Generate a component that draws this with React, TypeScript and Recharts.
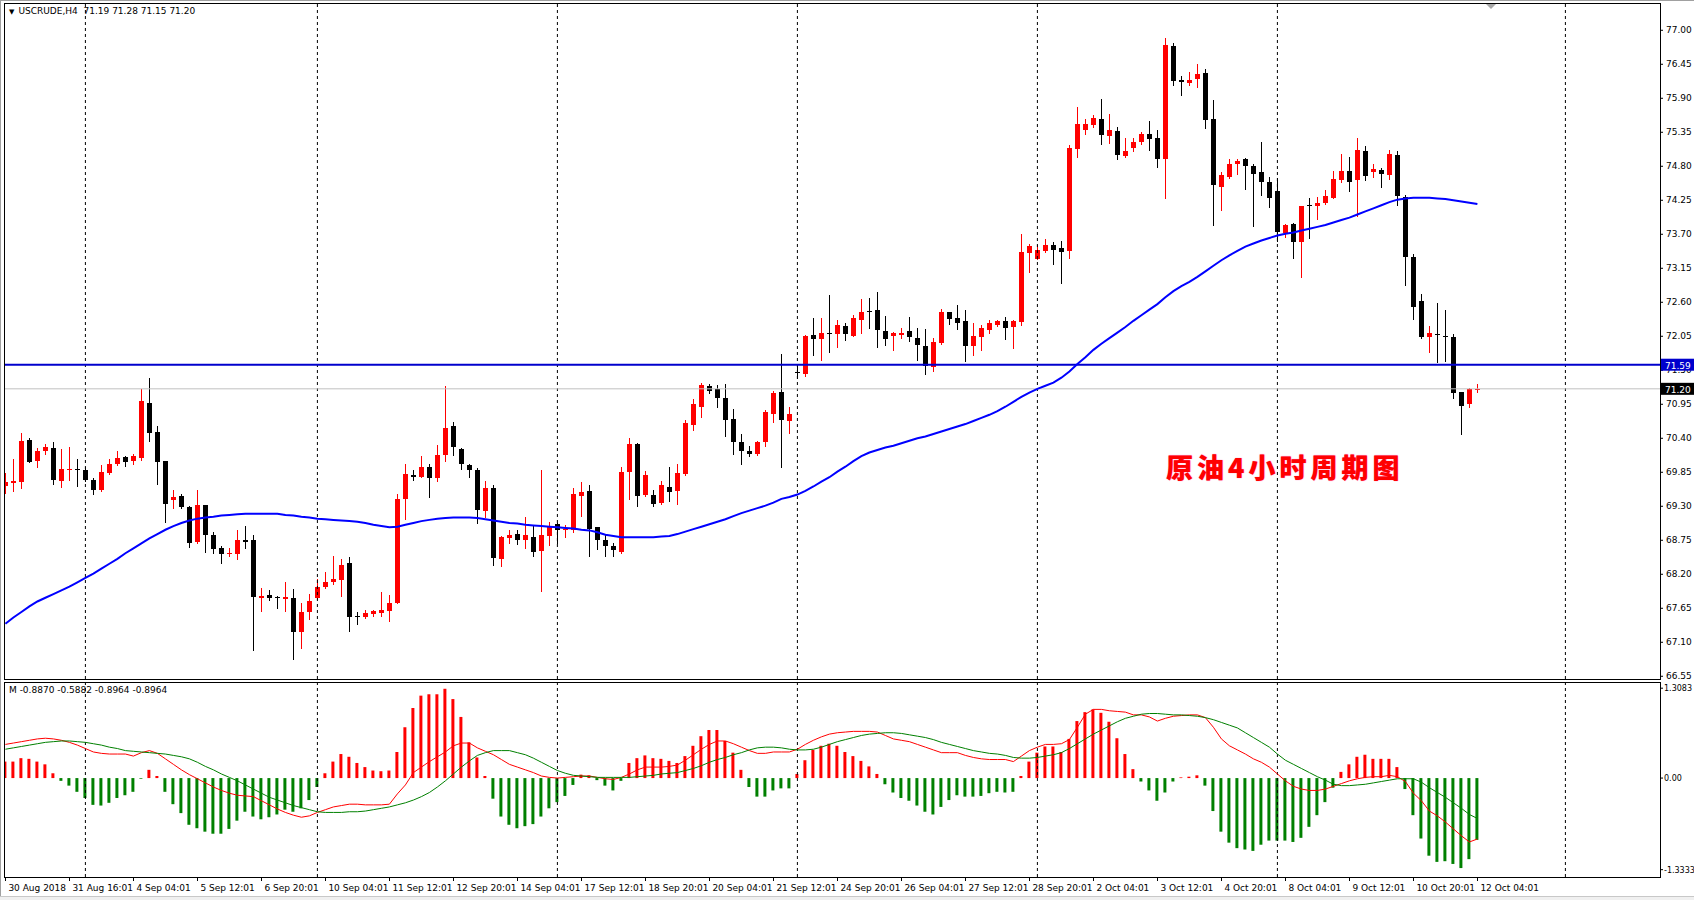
import React from 'react';
import { ComposedChart, Bar, Line, XAxis, YAxis, ReferenceLine, Cell } from 'recharts';

// USCRUDE H4 candles, 30 Aug 2018 .. 12 Oct 2018 04:01
const opens = [
  69.63, 69.68, 69.70, 70.38, 70.03, 70.20, 70.24, 69.71, 69.89, 69.90,
  69.88, 69.72, 69.57, 69.84, 69.98, 70.09, 70.03, 70.08, 70.97, 70.50,
  70.03, 69.40, 69.46, 69.29, 68.72, 69.32, 68.84, 68.63, 68.53, 68.53,
  68.76, 68.75, 67.81, 67.86, 67.84, 67.80, 67.82, 67.27, 67.59, 67.81,
  68.00, 68.07, 68.10, 68.38, 67.53, 67.51, 67.55, 67.58, 67.60, 67.73,
  69.42, 69.81, 69.78, 69.93, 69.76, 70.13, 70.60, 70.22, 69.96, 69.88,
  69.23, 69.59, 68.45, 68.78, 68.85, 68.75, 68.80, 68.57, 68.82, 69.02,
  68.91, 68.91, 69.46, 69.54, 68.96, 68.76, 68.66, 68.56, 69.85, 70.31,
  69.48, 69.49, 69.35, 69.61, 69.54, 69.82, 70.61, 70.90, 71.24, 71.19,
  71.05, 70.71, 70.34, 70.20, 70.15, 70.34, 70.79, 71.15, 70.68, 71.47,
  71.44, 72.07, 72.01, 72.10, 72.08, 72.21, 72.06, 72.32, 72.46, 72.47,
  72.14, 72.06, 72.07, 72.13, 72.03, 71.90, 71.56, 71.94, 72.44, 72.34,
  72.29, 71.89, 72.04, 72.15, 72.24, 72.29, 72.20, 72.28, 73.40, 73.30,
  73.43, 73.52, 73.47, 73.43, 75.08, 75.38, 75.47, 75.57, 75.29, 75.37,
  74.96, 75.09, 75.20, 75.33, 75.26, 74.91, 76.75, 76.19, 76.14, 76.21,
  76.31, 75.57, 74.47, 74.63, 74.84, 74.91, 74.81, 74.70, 74.54, 74.40,
  73.72, 73.86, 73.57, 74.18, 74.15, 74.21, 74.28, 74.57, 74.73, 74.57,
  75.05, 74.70, 74.74, 74.66, 74.98, 74.31, 73.33, 72.62, 72.04, 72.09,
  72.06, 72.04, 71.15, 70.96, 71.19,
];

const highs = [
  69.84, 70.06, 70.49, 70.40, 70.24, 70.31, 70.34, 70.22, 70.26, 70.06,
  69.93, 69.75, 69.96, 70.06, 70.19, 70.12, 70.15, 71.19, 71.37, 70.60,
  70.03, 69.56, 69.50, 69.31, 69.56, 69.32, 68.89, 68.66, 68.63, 68.92,
  68.98, 68.84, 67.97, 67.94, 67.85, 68.07, 67.96, 67.73, 67.88, 68.13,
  68.24, 68.49, 68.45, 68.48, 67.59, 67.63, 67.62, 67.91, 67.86, 69.50,
  69.98, 69.89, 70.12, 69.98, 70.29, 71.24, 70.67, 70.24, 69.98, 69.92,
  69.71, 69.65, 68.82, 68.91, 68.91, 69.12, 68.99, 69.88, 69.04, 69.03,
  68.99, 69.60, 69.70, 69.64, 68.97, 68.84, 68.70, 69.93, 70.40, 70.33,
  69.87, 69.56, 69.71, 69.93, 69.98, 70.69, 71.03, 71.30, 71.28, 71.26,
  71.28, 70.87, 70.47, 70.27, 70.36, 70.86, 71.16, 71.77, 70.90, 71.59,
  72.07, 72.34, 72.34, 72.72, 72.31, 72.26, 72.39, 72.65, 72.67, 72.77,
  72.37, 72.12, 72.18, 72.36, 72.19, 72.16, 72.02, 72.49, 72.45, 72.56,
  72.48, 72.26, 72.24, 72.31, 72.31, 72.36, 72.32, 73.70, 73.54, 73.52,
  73.63, 73.58, 73.59, 75.15, 75.76, 75.57, 75.63, 75.89, 75.64, 75.43,
  75.26, 75.26, 75.35, 75.54, 75.38, 76.87, 76.79, 76.26, 76.33, 76.45,
  76.38, 75.87, 74.70, 74.91, 74.91, 74.94, 74.84, 75.20, 74.63, 74.61,
  73.87, 73.88, 74.16, 74.28, 74.31, 74.42, 74.73, 75.00, 74.95, 75.26,
  75.12, 74.84, 74.77, 75.06, 75.05, 74.33, 73.38, 72.73, 72.21, 72.59,
  72.47, 72.08, 71.15, 71.21, 71.28,
];

const lows = [
  69.52, 69.54, 69.59, 70.02, 69.94, 70.15, 69.66, 69.61, 69.73, 69.63,
  69.71, 69.50, 69.55, 69.82, 69.96, 69.95, 69.98, 70.05, 70.36, 69.66,
  69.04, 69.28, 69.28, 68.64, 68.70, 68.56, 68.54, 68.38, 68.49, 68.45,
  68.63, 66.97, 67.61, 67.79, 67.66, 67.61, 66.83, 67.00, 67.47, 67.80,
  67.97, 68.05, 67.85, 67.29, 67.39, 67.49, 67.53, 67.52, 67.44, 67.73,
  69.10, 69.73, 69.77, 69.45, 69.71, 70.03, 70.13, 69.91, 69.77, 69.03,
  69.13, 68.35, 68.33, 68.70, 68.69, 68.63, 68.50, 67.93, 68.68, 68.71,
  68.80, 68.89, 69.15, 68.50, 68.61, 68.50, 68.50, 68.54, 69.42, 69.31,
  69.46, 69.31, 69.33, 69.38, 69.33, 69.80, 70.54, 70.74, 71.14, 70.90,
  70.43, 70.15, 69.99, 70.12, 70.13, 70.28, 70.67, 69.94, 70.48, 71.38,
  71.41, 71.75, 71.66, 71.80, 71.87, 71.99, 72.05, 72.10, 72.19, 71.87,
  71.91, 71.82, 72.03, 71.98, 71.67, 71.44, 71.49, 71.93, 72.25, 72.17,
  71.65, 71.75, 71.83, 72.10, 72.21, 72.00, 71.86, 72.24, 73.09, 73.30,
  73.42, 73.22, 72.91, 73.31, 74.95, 75.33, 75.44, 75.16, 75.17, 74.91,
  74.95, 75.05, 75.16, 75.07, 74.79, 74.28, 76.12, 75.96, 76.11, 76.08,
  75.42, 73.85, 74.10, 74.61, 74.68, 74.44, 73.84, 74.33, 74.14, 73.59,
  73.65, 73.31, 73.01, 73.64, 73.95, 74.19, 74.28, 74.54, 74.40, 74.00,
  74.58, 74.63, 74.46, 74.59, 74.17, 72.88, 72.33, 72.03, 71.79, 71.63,
  71.65, 71.05, 70.47, 70.90, 71.15,
];

const closes = [
  69.70, 69.71, 70.36, 70.02, 70.20, 70.26, 69.72, 69.90, 69.90, 69.89,
  69.72, 69.57, 69.85, 69.99, 70.08, 70.02, 70.11, 71.00, 70.49, 70.02,
  69.33, 69.45, 69.29, 68.71, 69.32, 68.83, 68.61, 68.53, 68.54, 68.75,
  68.73, 67.83, 67.85, 67.81, 67.83, 67.83, 67.27, 67.59, 67.77, 68.00,
  68.08, 68.12, 68.35, 67.51, 67.52, 67.57, 67.60, 67.63, 67.74, 69.41,
  69.82, 69.78, 69.94, 69.76, 70.13, 70.57, 70.26, 69.98, 69.89, 69.24,
  69.59, 68.47, 68.80, 68.84, 68.75, 68.83, 68.56, 68.83, 68.97, 68.91,
  68.94, 69.50, 69.53, 68.94, 68.76, 68.66, 68.59, 69.85, 70.31, 69.46,
  69.80, 69.33, 69.64, 69.53, 69.84, 70.64, 70.95, 71.26, 71.17, 71.05,
  70.69, 70.34, 70.19, 70.15, 70.34, 70.82, 71.14, 70.70, 70.79, 71.46,
  72.05, 72.01, 72.11, 72.09, 72.24, 72.08, 72.34, 72.45, 72.45, 72.15,
  72.01, 72.10, 72.11, 72.04, 71.91, 71.57, 71.96, 72.44, 72.33, 72.26,
  71.89, 72.05, 72.18, 72.26, 72.29, 72.19, 72.29, 73.42, 73.51, 73.45,
  73.52, 73.45, 73.42, 75.10, 75.48, 75.48, 75.58, 75.31, 75.38, 74.98,
  75.05, 75.20, 75.33, 75.24, 74.91, 76.76, 76.18, 76.16, 76.20, 76.30,
  75.55, 74.49, 74.66, 74.84, 74.89, 74.80, 74.68, 74.54, 74.28, 73.73,
  73.85, 73.57, 74.15, 74.17, 74.21, 74.32, 74.59, 74.73, 74.54, 75.06,
  74.65, 74.75, 74.67, 75.00, 74.32, 73.33, 72.53, 72.04, 72.11, 72.08,
  72.05, 71.14, 70.93, 71.19, 71.20,
];

// blue moving average
const ma = [
  67.40, 67.50, 67.59, 67.68, 67.76, 67.82, 67.88, 67.94, 68.00, 68.07,
  68.14, 68.21, 68.29, 68.37, 68.45, 68.54, 68.62, 68.70, 68.78, 68.85,
  68.92, 68.98, 69.03, 69.07, 69.10, 69.12, 69.13, 69.15, 69.16, 69.17,
  69.18, 69.18, 69.18, 69.18, 69.18, 69.16, 69.15, 69.13, 69.12, 69.10,
  69.09, 69.08, 69.07, 69.06, 69.05, 69.03, 69.00, 68.98, 68.96, 68.97,
  69.00, 69.03, 69.06, 69.08, 69.10, 69.11, 69.12, 69.12, 69.12, 69.11,
  69.09, 69.07, 69.05, 69.03, 69.02, 69.00, 68.99, 68.98, 68.97, 68.96,
  68.95, 68.94, 68.92, 68.91, 68.88, 68.84, 68.82, 68.80, 68.80, 68.80,
  68.80, 68.80, 68.81, 68.82, 68.85, 68.89, 68.93, 68.97, 69.01, 69.05,
  69.09, 69.14, 69.19, 69.23, 69.27, 69.31, 69.36, 69.42, 69.45, 69.49,
  69.55, 69.62, 69.70, 69.77, 69.86, 69.94, 70.03, 70.11, 70.17, 70.21,
  70.25, 70.28, 70.32, 70.36, 70.40, 70.43, 70.47, 70.51, 70.55, 70.59,
  70.63, 70.68, 70.73, 70.78, 70.84, 70.91, 70.99, 71.07, 71.14, 71.20,
  71.25, 71.30, 71.38, 71.48, 71.60, 71.71, 71.83, 71.93, 72.02, 72.11,
  72.20, 72.30, 72.39, 72.48, 72.57, 72.68, 72.78, 72.86, 72.93, 73.01,
  73.10, 73.19, 73.28, 73.36, 73.43, 73.50, 73.55, 73.60, 73.64, 73.68,
  73.71, 73.73, 73.76, 73.79, 73.82, 73.85, 73.89, 73.93, 73.97, 74.02,
  74.07, 74.12, 74.17, 74.22, 74.26, 74.28, 74.29, 74.29, 74.29, 74.28,
  74.27, 74.25, 74.23, 74.21, 74.19,
];

// lower panel (M) histogram and its two lines
const macdHist = [
  0.24, 0.24, 0.29, 0.28, 0.24, 0.20, 0.07, -0.04, -0.11, -0.20,
  -0.29, -0.39, -0.40, -0.36, -0.29, -0.25, -0.20, -0.01, 0.12, 0.03,
  -0.20, -0.38, -0.51, -0.68, -0.73, -0.78, -0.81, -0.81, -0.74, -0.62,
  -0.49, -0.56, -0.60, -0.57, -0.53, -0.46, -0.49, -0.44, -0.32, -0.13,
  0.07, 0.24, 0.35, 0.31, 0.22, 0.16, 0.11, 0.10, 0.11, 0.38,
  0.74, 1.02, 1.20, 1.22, 1.22, 1.30, 1.15, 0.89, 0.52, 0.30,
  0.03, -0.30, -0.56, -0.68, -0.73, -0.70, -0.67, -0.56, -0.44, -0.35,
  -0.26, -0.10, 0.05, 0.04, -0.03, -0.11, -0.18, -0.04, 0.22, 0.29,
  0.33, 0.29, 0.28, 0.25, 0.22, 0.32, 0.47, 0.61, 0.70, 0.70,
  0.54, 0.37, 0.12, -0.13, -0.27, -0.27, -0.18, -0.15, -0.15, 0.06,
  0.26, 0.41, 0.47, 0.50, 0.47, 0.38, 0.32, 0.25, 0.17, 0.06,
  -0.09, -0.21, -0.29, -0.33, -0.40, -0.49, -0.53, -0.42, -0.32, -0.25,
  -0.27, -0.27, -0.26, -0.22, -0.20, -0.21, -0.20, 0.03, 0.24, 0.37,
  0.46, 0.46, 0.38, 0.57, 0.83, 0.96, 1.00, 0.95, 0.82, 0.58,
  0.35, 0.13, -0.05, -0.18, -0.33, -0.21, -0.05, 0.01, 0.02, 0.04,
  -0.11, -0.48, -0.78, -0.94, -1.02, -1.04, -1.06, -0.97, -0.91, -0.91,
  -0.91, -0.93, -0.87, -0.71, -0.54, -0.35, -0.14, 0.09, 0.20, 0.31,
  0.34, 0.28, 0.28, 0.28, 0.16, -0.16, -0.54, -0.88, -1.13, -1.22,
  -1.21, -1.25, -1.31, -1.18, -0.90,
];

const macdRed = [
  0.49, 0.51, 0.53, 0.55, 0.57, 0.58, 0.57, 0.55, 0.52, 0.48,
  0.43, 0.38, 0.36, 0.35, 0.35, 0.35, 0.32, 0.37, 0.40, 0.36,
  0.28, 0.20, 0.12, 0.05, -0.01, -0.07, -0.13, -0.18, -0.22, -0.25,
  -0.26, -0.27, -0.33, -0.39, -0.45, -0.50, -0.54, -0.57, -0.55, -0.50,
  -0.46, -0.42, -0.40, -0.38, -0.38, -0.39, -0.39, -0.39, -0.38, -0.23,
  -0.10, 0.08, 0.16, 0.24, 0.31, 0.38, 0.47, 0.51, 0.51, 0.44,
  0.39, 0.34, 0.27, 0.20, 0.16, 0.12, 0.08, 0.03, 0.01, 0.00,
  0.01, 0.02, 0.03, 0.03, 0.01, -0.01, -0.02, 0.01, 0.06, 0.12,
  0.16, 0.16, 0.16, 0.17, 0.19, 0.26, 0.34, 0.42, 0.49, 0.54,
  0.54, 0.50, 0.45, 0.40, 0.36, 0.36, 0.38, 0.38, 0.38, 0.42,
  0.49, 0.55, 0.60, 0.64, 0.66, 0.67, 0.68, 0.68, 0.68, 0.67,
  0.62, 0.57, 0.55, 0.53, 0.49, 0.45, 0.41, 0.37, 0.37, 0.37,
  0.33, 0.30, 0.28, 0.27, 0.27, 0.27, 0.24, 0.32, 0.40, 0.45,
  0.49, 0.49, 0.50, 0.56, 0.74, 0.93, 1.00, 1.00, 0.98, 0.97,
  0.96, 0.92, 0.92, 0.89, 0.83, 0.87, 0.90, 0.91, 0.92, 0.92,
  0.88, 0.74, 0.57, 0.47, 0.41, 0.35, 0.28, 0.23, 0.16, 0.06,
  -0.04, -0.12, -0.16, -0.18, -0.18, -0.16, -0.12, -0.08, -0.04, -0.01,
  0.01, 0.02, 0.02, 0.04, 0.02, -0.05, -0.22, -0.33, -0.48, -0.55,
  -0.64, -0.74, -0.84, -0.93, -0.887,
];

const macdGreen = [
  0.42, 0.44, 0.46, 0.48, 0.50, 0.52, 0.53, 0.54, 0.54, 0.53,
  0.52, 0.50, 0.48, 0.45, 0.43, 0.40, 0.39, 0.38, 0.37, 0.36,
  0.35, 0.33, 0.31, 0.28, 0.23, 0.17, 0.12, 0.06, 0.01, -0.04,
  -0.10, -0.16, -0.22, -0.28, -0.32, -0.36, -0.40, -0.43, -0.46, -0.49,
  -0.50, -0.50, -0.50, -0.49, -0.49, -0.48, -0.46, -0.44, -0.42, -0.39,
  -0.36, -0.32, -0.27, -0.21, -0.13, -0.04, 0.06, 0.16, 0.25, 0.33,
  0.37, 0.40, 0.40, 0.40, 0.37, 0.34, 0.29, 0.23, 0.17, 0.11,
  0.07, 0.04, 0.03, 0.02, 0.01, 0.01, 0.01, 0.01, 0.01, 0.02,
  0.03, 0.04, 0.06, 0.07, 0.08, 0.11, 0.14, 0.18, 0.23, 0.27,
  0.30, 0.34, 0.37, 0.41, 0.44, 0.45, 0.45, 0.44, 0.42, 0.41,
  0.41, 0.42, 0.45, 0.49, 0.53, 0.56, 0.59, 0.62, 0.64, 0.65,
  0.66, 0.66, 0.65, 0.63, 0.61, 0.59, 0.56, 0.52, 0.49, 0.46,
  0.43, 0.40, 0.38, 0.36, 0.35, 0.33, 0.30, 0.29, 0.29, 0.30,
  0.32, 0.34, 0.37, 0.43, 0.50, 0.57, 0.64, 0.70, 0.76, 0.82,
  0.87, 0.90, 0.93, 0.94, 0.94, 0.93, 0.92, 0.92, 0.91, 0.90,
  0.88, 0.85, 0.81, 0.77, 0.73, 0.66, 0.59, 0.52, 0.45, 0.35,
  0.26, 0.20, 0.14, 0.08, 0.02, -0.03, -0.09, -0.11, -0.11, -0.10,
  -0.09, -0.07, -0.05, -0.03, -0.01, -0.01, -0.01, -0.06, -0.14, -0.21,
  -0.28, -0.36, -0.44, -0.53, -0.588,
];

// time scale: one label every 8 bars
const dateLabels = [
  '30 Aug 2018', '31 Aug 16:01', '4 Sep 04:01', '5 Sep 12:01', '6 Sep 20:01',
  '10 Sep 04:01', '11 Sep 12:01', '12 Sep 20:01', '14 Sep 04:01', '17 Sep 12:01',
  '18 Sep 20:01', '20 Sep 04:01', '21 Sep 12:01', '24 Sep 20:01', '26 Sep 04:01',
  '27 Sep 12:01', '28 Sep 20:01', '2 Oct 04:01', '3 Oct 12:01', '4 Oct 20:01',
  '8 Oct 04:01', '9 Oct 12:01', '10 Oct 20:01', '12 Oct 04:01',
];
const labelBars = dateLabels.map((_, k) => k * 8);

// weekly separators (dotted)
const gridBars = [10, 39, 69, 99, 129, 159, 195];

// 71.50 is drawn separately so the 71.59 tag can sit on top of it
const priceTicks = [
  66.55, 67.1, 67.65, 68.2, 68.75, 69.3, 69.85, 70.4, 70.95,
  72.05, 72.6, 73.15, 73.7, 74.25, 74.8, 75.35, 75.9, 76.45, 77.0,
];
const hiddenTick = 71.5;
const macdTicks = [1.3083, 0, -1.3333];
const levelPrice = 71.59;
const lastPrice = 71.2;

const rows = opens.map((o, i) => ({
  i,
  open: o,
  high: highs[i],
  low: lows[i],
  close: closes[i],
  ma: ma[i],
  hist: macdHist[i],
  red: macdRed[i],
  green: macdGreen[i],
}));

const X_DOMAIN: [number, number] = [-0.175, 206.825];
const FONT = '"DejaVu Sans", Tahoma, sans-serif';
const UP = '#ff0000';
const DOWN = '#000000';

function Candle(props: any) {
  const { x, y, width, height, payload } = props;
  if (x == null || !payload) return null;
  const top = Math.min(y, y + height);
  const span = Math.abs(height);
  const { open, close, high, low } = payload;
  const toY = (v: number) => top + ((high - v) / (high - low || 1)) * span;
  const cx = Math.round(x + width / 2);
  const color = close >= open ? UP : DOWN;
  const b1 = Math.round(toY(Math.max(open, close)));
  const b2 = Math.round(toY(Math.min(open, close)));
  return (
    <g shapeRendering="crispEdges">
      <line x1={cx + 0.5} x2={cx + 0.5} y1={Math.round(top)} y2={Math.round(top + span) + 1} stroke={color} />
      <rect x={cx - 2} y={b1} width={5} height={Math.max(b2 - b1, 1)} fill={color} />
    </g>
  );
}

const priceTag = (value: number, bg: string) => (props: any) => {
  const vb = props.viewBox || {};
  if (vb.x == null) return null;
  const left = vb.x + vb.width + 1;
  const cy = vb.y;
  return (
    <g>
      <rect x={left} y={cy - 6} width={33} height={12} fill={bg} />
      <text x={left + 4} y={cy + 4} fill="#ffffff" fontSize={9} fontFamily={FONT}>
        {value.toFixed(2)}
      </text>
    </g>
  );
};

const axisLabel = (value: number) => (props: any) => {
  const vb = props.viewBox || {};
  if (vb.x == null) return null;
  const ax = vb.x + vb.width;
  return (
    <g>
      <line x1={ax} x2={ax + 3} y1={vb.y} y2={vb.y} stroke="#000" />
      <text x={ax + 6} y={vb.y} dy="0.355em" fontSize={9} fontFamily={FONT} fill="#000">
        {value.toFixed(2)}
      </text>
    </g>
  );
};

function DateTick(props: any) {
  const { x, y, payload } = props;
  const label = dateLabels[Math.round(payload.value / 8)];
  return (
    <g>
      <line x1={x + 0.5} x2={x + 0.5} y1={y} y2={y + 4} stroke="#000" shapeRendering="crispEdges" />
      <text x={x + 3} y={y + 14} fontSize={9} fontFamily={FONT} fill="#000">
        {label}
      </text>
    </g>
  );
}

const axisTick = { fontSize: 9, fill: '#000', fontFamily: FONT };
const macdAxisTick = { fontSize: 8, fill: '#000', fontFamily: FONT };

export default function App() {
  return (
    <div
      style={{
        position: 'absolute',
        left: 0,
        top: 0,
        width: 1694,
        height: 900,
        background: '#ffffff',
        overflow: 'hidden',
        fontFamily: FONT,
      }}
    >
      {/* outer window edge */}
      <div style={{ position: 'absolute', left: 0, top: 0, width: 1694, height: 1, background: '#a0a0a0' }} />
      <div style={{ position: 'absolute', left: 0, top: 0, width: 1, height: 900, background: '#a0a0a0' }} />
      <div style={{ position: 'absolute', left: 0, top: 896, width: 1694, height: 4, background: '#f0f0f0', borderTop: '1px solid #c8c8c8' }} />

      <div style={{ position: 'absolute', left: 0, top: 0 }}>
        <ComposedChart width={1694} height={680} data={rows} margin={{ top: 4, right: 0, bottom: 1, left: 4 }}>
          <XAxis dataKey="i" type="number" domain={X_DOMAIN} allowDataOverflow hide />
          <YAxis
            orientation="right"
            width={34}
            domain={[66.506, 77.425]}
            allowDataOverflow
            ticks={priceTicks}
            interval={0}
            tick={axisTick}
            tickSize={3}
            tickMargin={3}
            axisLine={false}
            tickLine={{ stroke: '#000' }}
            tickFormatter={(v: number) => v.toFixed(2)}
          />
          {gridBars.map((b) => (
            <ReferenceLine key={b} x={b} stroke="#000" strokeDasharray="3 3" />
          ))}
          <ReferenceLine y={hiddenTick} stroke="none" label={axisLabel(hiddenTick)} />
          <ReferenceLine y={lastPrice} stroke="#c0c0c0" label={priceTag(lastPrice, '#000000')} />
          <ReferenceLine y={levelPrice} stroke="#0000cd" strokeWidth={2} label={priceTag(levelPrice, '#0000cd')} />
          <Bar dataKey={(d: any) => [d.low, d.high]} shape={Candle} barSize={8} isAnimationActive={false} />
          <Line dataKey="ma" stroke="#0000ff" strokeWidth={2} dot={false} isAnimationActive={false} />
        </ComposedChart>
      </div>

      <div style={{ position: 'absolute', left: 0, top: 680 }}>
        <ComposedChart width={1694} height={220} data={rows} margin={{ top: 3, right: 0, bottom: 0, left: 4 }}>
          <XAxis
            dataKey="i"
            type="number"
            domain={X_DOMAIN}
            allowDataOverflow
            ticks={labelBars}
            interval={0}
            tickSize={0}
            tickMargin={0}
            axisLine={false}
            tickLine={false}
            height={23}
            tick={(p: any) => <DateTick {...p} />}
          />
          <YAxis
            orientation="right"
            width={34}
            domain={[-1.44, 1.384]}
            allowDataOverflow
            ticks={macdTicks}
            interval={0}
            tick={macdAxisTick}
            tickSize={3}
            tickMargin={1}
            axisLine={false}
            tickLine={{ stroke: '#000' }}
            tickFormatter={(v: number) => (v === 0 ? '0.00' : v.toFixed(4))}
          />
          {gridBars.map((b) => (
            <ReferenceLine key={b} x={b} stroke="#000" strokeDasharray="3 3" />
          ))}
          <Bar dataKey="hist" barSize={3} isAnimationActive={false}>
            {rows.map((r) => (
              <Cell key={r.i} fill={r.hist >= 0 ? '#ff0000' : '#008000'} />
            ))}
          </Bar>
          <Line dataKey="red" stroke="#ff0000" strokeWidth={1} dot={false} isAnimationActive={false} />
          <Line dataKey="green" stroke="#008000" strokeWidth={1} dot={false} isAnimationActive={false} />
        </ComposedChart>
      </div>

      {/* panel frames */}
      <div style={{ position: 'absolute', left: 4, top: 3, width: 1657, height: 677, border: '1px solid #000', boxSizing: 'border-box', pointerEvents: 'none' }} />
      <div style={{ position: 'absolute', left: 4, top: 682, width: 1657, height: 196, border: '1px solid #000', boxSizing: 'border-box', pointerEvents: 'none' }} />

      {/* chart shift marker */}
      <svg style={{ position: 'absolute', left: 1486, top: 4 }} width={11} height={6}>
        <polygon points="0,0 10,0 5,5" fill="#a8a8a8" />
      </svg>

      <div style={{ position: 'absolute', left: 9, top: 6, fontSize: 9, color: '#000', whiteSpace: 'pre' }}>
        <span style={{ fontSize: 7, marginRight: 4 }}>▼</span>
        {'USCRUDE,H4  71.19 71.28 71.15 71.20'}
      </div>
      <div style={{ position: 'absolute', left: 9, top: 685, fontSize: 9, color: '#000', whiteSpace: 'pre' }}>
        {'M -0.8870 -0.5882 -0.8964 -0.8964'}
      </div>

      <div
        style={{
          position: 'absolute',
          left: 1166,
          top: 447,
          fontSize: 27,
          fontWeight: 900,
          color: '#ff0000',
          letterSpacing: 4,
          whiteSpace: 'pre',
          fontFamily: '"Noto Sans CJK SC", sans-serif',
          textShadow: '0 0 1px #ff40a0',
        }}
      >
        原油4小时周期图
      </div>
    </div>
  );
}
